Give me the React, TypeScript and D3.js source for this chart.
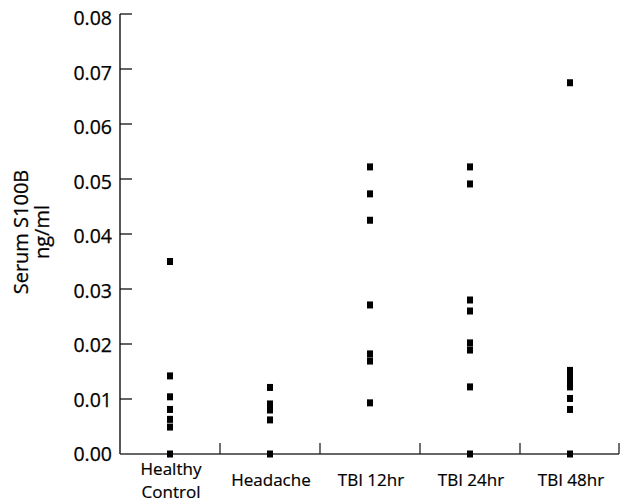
import { useEffect, useMemo } from 'react';
import * as d3 from 'd3';

const WIDTH = 620;
const HEIGHT = 503;

const categories = ['Healthy Control', 'Headache', 'TBI 12hr', 'TBI 24hr', 'TBI 48hr'];
const categoryLines = [['Healthy', 'Control'], ['Headache'], ['TBI 12hr'], ['TBI 24hr'], ['TBI 48hr']];

const healthyControl = [0.035, 0.0142, 0.0104, 0.0081, 0.0063, 0.0049, 0];
const headache = [0.0121, 0.0091, 0.008, 0.0062, 0];
const tbi12 = [0.0522, 0.0473, 0.0425, 0.0271, 0.0182, 0.0169, 0.0093];
const tbi24 = [0.0522, 0.0491, 0.028, 0.026, 0.0202, 0.0189, 0.0122, 0];
const tbi48 = [0.0675, 0.0152, 0.0142, 0.0132, 0.0122, 0.0101, 0.0081, 0];

const series = [healthyControl, headache, tbi12, tbi24, tbi48];
const yTicks = [0, 0.01, 0.02, 0.03, 0.04, 0.05, 0.06, 0.07, 0.08];

const M = { left: 120, right: 0, top: 14, bottom: 49 };
const FONT = '"Open Sans", sans-serif';

export default function App() {
  useEffect(() => {
    document.body.style.margin = '0';
  }, []);

  const x = useMemo(
    () => d3.scaleBand<string>().domain(categories).range([M.left, WIDTH - M.right]),
    [],
  );
  const y = useMemo(
    () => d3.scaleLinear().domain([0, 0.08]).range([HEIGHT - M.bottom, M.top]),
    [],
  );

  const y0 = y(0);

  return (
    <svg width={WIDTH} height={HEIGHT} style={{ display: 'block' }}>
      {/* y axis */}
      <line x1={M.left} x2={M.left} y1={y(0.08)} y2={y0} stroke="#111" strokeWidth={1.4} />
      {yTicks.map((t) => (
        <g key={t}>
          {t > 0 && (
            <line x1={M.left} x2={M.left + 12} y1={y(t)} y2={y(t)} stroke="#111" strokeWidth={1.3} />
          )}
          <text
            x={M.left - 8}
            y={y(t) + 4 * (t / 0.08)}
            dy="0.36em"
            textAnchor="end"
            fontFamily={FONT}
            fontSize={19.5}
            fill="#000"
            stroke="#000"
            strokeWidth={0.25}
          >
            {t.toFixed(2)}
          </text>
        </g>
      ))}
      <text
        transform={`translate(22, 232) rotate(-90)`}
        textAnchor="middle"
        fontFamily={FONT}
        fontSize={20}
        fill="#000"
        stroke="#000"
        strokeWidth={0.25}
      >
        <tspan x={0} dy="0.32em">Serum S100B</tspan>
        <tspan x={0} dy="1.05em">ng/ml</tspan>
      </text>

      {/* x axis */}
      <line x1={M.left} x2={WIDTH - M.right - 1} y1={y0} y2={y0} stroke="#333" strokeWidth={1.4} />
      {categories.map((c) => (
        <line
          key={c}
          x1={(x(c) ?? 0) + x.bandwidth() - (c === 'TBI 48hr' ? 1 : 0)}
          x2={(x(c) ?? 0) + x.bandwidth() - (c === 'TBI 48hr' ? 1 : 0)}
          y1={y0}
          y2={y0 - 11}
          stroke="#222"
          strokeWidth={1.3}
        />
      ))}
      {categories.map((c, i) => {
        const cx = (x(c) ?? 0) + x.bandwidth() / 2;
        const lines = categoryLines[i];
        return (
          <text
            key={c}
            textAnchor="middle"
            fontFamily={FONT}
            fontSize={17}
            fill="#000"
            stroke="#000"
            strokeWidth={0.2}
          >
            {lines.map((l, j) => (
              <tspan
                key={l}
                x={cx + 1}
                y={lines.length === 1 ? 486 : 475 + j * 23}
              >
                {l}
              </tspan>
            ))}
          </text>
        );
      })}

      {/* points */}
      {series.map((vals, i) => {
        const cx = (x(categories[i]) ?? 0) + x.bandwidth() / 2;
        return vals.map((v, j) => (
          <rect key={`${i}-${j}`} x={cx - 3} y={y(v) - 3.5} width={6} height={7} fill="#000" />
        ));
      })}
    </svg>
  );
}
